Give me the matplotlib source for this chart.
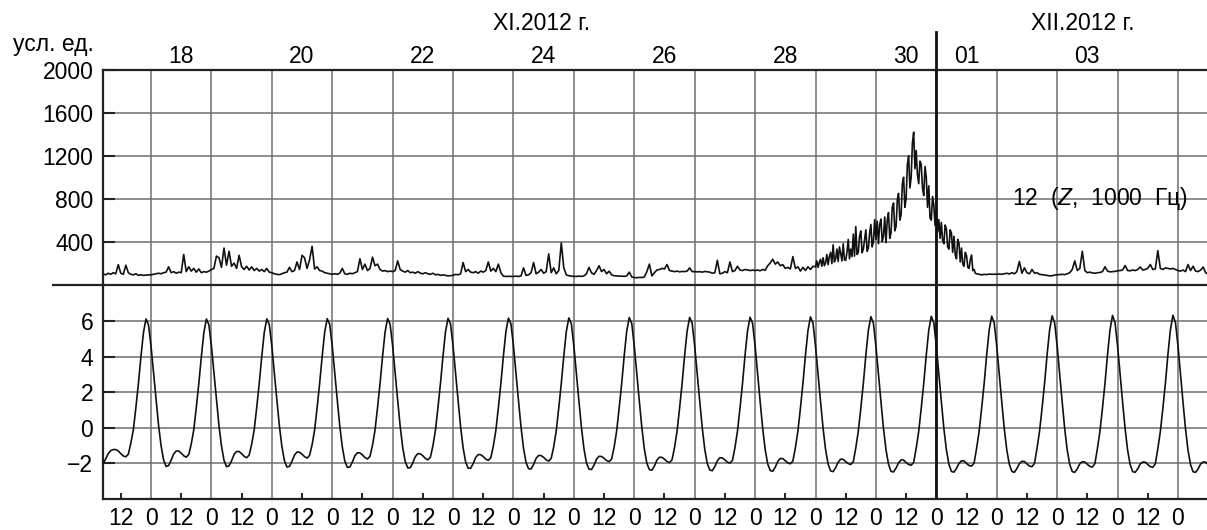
import matplotlib
matplotlib.use('Agg')
import matplotlib.pyplot as plt
from matplotlib.lines import Line2D
import numpy as np

plt.rcParams['font.family'] = ['Liberation Sans', 'DejaVu Sans']
plt.rcParams['font.size'] = 16.5
plt.rcParams['mathtext.fontset'] = 'custom'
plt.rcParams['mathtext.rm'] = 'Liberation Sans'
plt.rcParams['mathtext.it'] = 'Liberation Sans:italic'

# ---------------- data ----------------
# time axis: day-of-month counted from 1 Nov 2012 (Dec 1 = 31)
hour = 1 / 24.0

# channel 12 (Z, 1000 Hz), conventional units
# quiet part before the burst, hourly from 17 Nov 04:00
signal_before_start = 17 + 4 * hour
signal_before = [
    # Nov 17 (04..23)
    95, 100, 90, 105, 95, 110, 100, 185, 105, 95, 180, 110, 95, 90, 100, 85, 90, 85, 88, 90,
    # Nov 18
    90, 95, 100, 105, 100, 110, 115, 165, 110, 120, 105, 115, 110, 280, 120, 165, 125, 150, 115, 145, 110, 120, 115, 125,
    # Nov 19
    140, 150, 265, 250, 160, 340, 180, 310, 170, 200, 150, 272, 165, 140, 170, 135, 165, 130, 150, 125, 140, 120, 150, 115,
    # Nov 20
    110, 100, 95, 92, 100, 110, 115, 160, 120, 130, 210, 140, 272, 250, 150, 230, 356, 145, 165, 130, 125, 110, 105, 100,
    # Nov 21
    95, 100, 95, 105, 150, 100, 95, 105, 100, 110, 120, 240, 140, 190, 130, 150, 255, 175, 190, 140, 125, 130, 120, 125,
    # Nov 22
    120, 130, 220, 140, 125, 115, 130, 110, 115, 105, 120, 105, 100, 110, 100, 95, 105, 90, 95, 85, 90, 85, 80, 82,
    # Nov 23
    85, 95, 90, 100, 205, 120, 140, 115, 110, 120, 105, 125, 115, 130, 210, 125, 150, 120, 190, 110, 78, 75, 76, 75,
    # Nov 24
    75, 78, 75, 80, 155, 85, 90, 110, 205, 100, 115, 140, 105, 120, 285, 110, 155, 100, 130, 388, 155, 90, 82, 78,
    # Nov 25
    76, 75, 78, 76, 80, 100, 160, 110, 95, 130, 175, 120, 140, 100, 124, 90, 82, 80, 78, 78, 76, 80, 115, 70,
    # Nov 26
    65, 63, 66, 65, 70, 120, 190, 80, 110, 135, 140, 150, 145, 186, 130, 125, 120, 125, 118, 122, 120, 125, 155, 120,
    # Nov 27
    120, 118, 120, 115, 122, 118, 115, 105, 110, 225, 100, 105, 120, 110, 210, 120, 130, 170, 135, 130, 140, 135, 130, 135,
    # Nov 28
    130, 135, 128, 140, 132, 175, 200, 235, 190, 210, 175, 185, 150, 160, 145, 260, 150, 165, 125, 160, 130, 165, 140, 170,
]

# the burst, half-hourly from 29 Nov 00:00 to 1 Dec 15:30
burst_start = 29.0
burst_halfhourly = [
    # Nov 29
    165, 220, 160, 205, 235, 170, 250, 175, 200, 280, 185, 260, 300, 195, 370, 210,
    240, 330, 215, 350, 290, 220, 380, 230, 225, 300, 420, 240, 330, 260, 470, 265,
    540, 280, 300, 450, 500, 295, 330, 420, 510, 310, 340, 480, 560, 350, 400, 605,
    # Nov 30
    420, 590, 380, 560, 610, 400, 450, 630, 390, 600, 670, 430, 480, 720, 760, 500,
    540, 790, 850, 600, 650, 940, 1000, 720, 800, 1120, 1200, 900, 1000, 1320, 1420, 1080,
    1250, 1020, 940, 1150, 1120, 900, 830, 1100, 1000, 720, 920, 620, 600, 820, 740, 550,
    # Dec 1 (00:00..15:30)
    680, 490, 605, 430, 580, 410, 380, 555, 520, 350, 330, 510, 480, 300, 450, 280,
    240, 420, 385, 210, 340, 190, 170, 300, 270, 160, 150, 230, 275, 130, 140, 105,
]

# quiet part after the burst, hourly from 1 Dec 16:00
signal_after_start = 31 + 16 * hour
signal_after = [
    # Dec 1 (16..23)
    100, 95, 90, 95, 92, 98, 95, 96,
    # Dec 2
    95, 98, 95, 100, 105, 98, 110, 100, 120, 215, 105, 155, 110, 100, 140, 105, 110, 95, 92, 90, 85, 80, 82, 88,
    # Dec 3
    90, 92, 95, 92, 100, 110, 140, 220, 130, 150, 310, 130, 110, 115, 108, 105, 110, 112, 120, 165, 125, 118, 120, 122,
    # Dec 4
    128, 130, 135, 177, 130, 128, 135, 130, 140, 163, 135, 140, 150, 186, 140, 145, 315, 150, 140, 155, 150, 145, 150, 140,
    # Dec 5 (00..12)
    130, 125, 135, 120, 186, 130, 170, 125, 120, 135, 163, 110, 92,
]

# lower curve, hourly from 17 Nov 04:00
tide_start = 17 + 4 * hour
tide = [
    # Nov 17 (04..23)
    -2.05, -2.0, -1.75, -1.45, -1.28, -1.22, -1.22, -1.3, -1.45, -1.58, -1.63, -1.48, -0.85, -0.1, 1.15, 2.5, 4.0, 5.35, 6.12, 5.8,
    # Nov 18
    4.6, 3.1, 1.6, 0.15, -1.0, -1.8, -2.17, -2.12, -1.82, -1.47, -1.3, -1.3, -1.42, -1.57, -1.65, -1.5, -0.9, -0.1, 1.15, 2.5, 4.0, 5.35, 6.12, 5.8,
    # Nov 19
    4.6, 3.1, 1.6, 0.14, -1.02, -1.82, -2.18, -2.14, -1.85, -1.5, -1.33, -1.33, -1.45, -1.6, -1.68, -1.53, -0.92, -0.11, 1.15, 2.5, 4.0, 5.37, 6.13, 5.81,
    # Nov 20
    4.61, 3.09, 1.58, 0.12, -1.04, -1.84, -2.2, -2.17, -1.88, -1.53, -1.36, -1.37, -1.48, -1.62, -1.7, -1.55, -0.95, -0.12, 1.14, 2.5, 4.01, 5.38, 6.14, 5.82,
    # Nov 21
    4.61, 3.08, 1.57, 0.1, -1.07, -1.87, -2.22, -2.2, -1.92, -1.57, -1.4, -1.41, -1.52, -1.67, -1.75, -1.6, -0.98, -0.13, 1.14, 2.5, 4.02, 5.39, 6.15, 5.83,
    # Nov 22
    4.61, 3.07, 1.56, 0.08, -1.1, -1.9, -2.25, -2.24, -1.97, -1.62, -1.45, -1.46, -1.57, -1.72, -1.8, -1.65, -1.01, -0.14, 1.13, 2.5, 4.03, 5.4, 6.16, 5.84,
    # Nov 23
    4.61, 3.06, 1.55, 0.06, -1.12, -1.92, -2.27, -2.27, -2.01, -1.66, -1.5, -1.51, -1.61, -1.76, -1.83, -1.68, -1.03, -0.15, 1.13, 2.5, 4.04, 5.41, 6.17, 5.85,
    # Nov 24
    4.61, 3.05, 1.53, 0.05, -1.15, -1.95, -2.3, -2.31, -2.06, -1.71, -1.55, -1.56, -1.66, -1.8, -1.87, -1.71, -1.06, -0.16, 1.12, 2.5, 4.05, 5.42, 6.18, 5.86,
    # Nov 25
    4.6, 3.04, 1.52, 0.03, -1.17, -1.97, -2.32, -2.34, -2.1, -1.76, -1.6, -1.61, -1.71, -1.84, -1.9, -1.75, -1.08, -0.17, 1.12, 2.5, 4.06, 5.44, 6.2, 5.87,
    # Nov 26
    4.6, 3.04, 1.51, 0.02, -1.19, -1.99, -2.35, -2.38, -2.15, -1.81, -1.65, -1.66, -1.76, -1.89, -1.95, -1.79, -1.1, -0.18, 1.11, 2.5, 4.07, 5.45, 6.21, 5.88,
    # Nov 27
    4.6, 3.03, 1.5, 0.01, -1.2, -2.01, -2.37, -2.41, -2.18, -1.85, -1.68, -1.69, -1.8, -1.93, -1.98, -1.83, -1.11, -0.18, 1.11, 2.5, 4.08, 5.46, 6.22, 5.88,
    # Nov 28
    4.6, 3.02, 1.49, -0.01, -1.21, -2.02, -2.4, -2.44, -2.21, -1.89, -1.72, -1.73, -1.85, -1.97, -2.02, -1.87, -1.12, -0.19, 1.1, 2.5, 4.08, 5.47, 6.24, 5.89,
    # Nov 29
    4.6, 3.02, 1.48, -0.02, -1.22, -2.03, -2.42, -2.46, -2.24, -1.93, -1.76, -1.77, -1.9, -2.01, -2.06, -1.91, -1.13, -0.19, 1.1, 2.5, 4.09, 5.48, 6.25, 5.89,
    # Nov 30
    4.6, 3.01, 1.47, -0.03, -1.23, -2.04, -2.45, -2.48, -2.26, -1.97, -1.8, -1.81, -1.95, -2.06, -2.1, -1.95, -1.14, -0.2, 1.1, 2.5, 4.09, 5.49, 6.27, 5.9,
    # Dec 1
    4.6, 3.0, 1.46, -0.04, -1.24, -2.05, -2.45, -2.49, -2.28, -2.0, -1.85, -1.86, -2.0, -2.12, -2.15, -1.98, -1.15, -0.2, 1.1, 2.5, 4.1, 5.5, 6.28, 5.9,
    # Dec 2
    4.6, 3.0, 1.45, -0.05, -1.25, -2.05, -2.45, -2.5, -2.29, -2.01, -1.88, -1.89, -2.03, -2.15, -2.18, -2.0, -1.15, -0.2, 1.1, 2.5, 4.1, 5.5, 6.3, 5.9,
    # Dec 3
    4.61, 3.0, 1.45, -0.05, -1.25, -2.05, -2.46, -2.5, -2.3, -2.02, -1.9, -1.92, -2.05, -2.17, -2.2, -2.01, -1.16, -0.2, 1.1, 2.5, 4.1, 5.51, 6.32, 5.91,
    # Dec 4
    4.62, 3.0, 1.45, -0.05, -1.26, -2.06, -2.46, -2.5, -2.31, -2.03, -1.92, -1.93, -2.06, -2.18, -2.22, -2.02, -1.17, -0.2, 1.1, 2.5, 4.11, 5.52, 6.33, 5.92,
    # Dec 5 (00..12)
    4.62, 3.0, 1.44, -0.06, -1.27, -2.07, -2.47, -2.5, -2.31, -2.03, -1.92, -1.93, -2.06,
]

day_label_pos = [18.5, 20.5, 22.5, 24.5, 26.5, 28.5, 30.5, 31.5, 33.5]
day_labels = ['18', '20', '22', '24', '26', '28', '30', '01', '03']
month_labels = ['XI.2012 г.', 'XII.2012 г.']
month_label_pos = [24.46, 33.43]
month_boundary = 31
midnights = list(range(18, 36))
noons = [d + 0.5 for d in range(17, 35)]
top_yticks = [400, 800, 1200, 1600, 2000]
bottom_yticks = [-2, 0, 2, 4, 6]
y_unit_label = 'усл. ед.'
channel_label = '12  ($\\mathit{Z}$,  1000  Гц)'

# ---------------- figure ----------------
W, H = 1207, 530
fig = plt.figure(figsize=(W / 100, H / 100), dpi=100)
fig.patch.set_facecolor('white')

left_px, right_px = 103, 1208
top_px, mid_px, bot_px = 70, 284.5, 499
px_per_day = 60.41
x0 = 18 - (151 - left_px) / px_per_day
x1 = x0 + (right_px - left_px) / px_per_day

ax_top = fig.add_axes([left_px / W, 1 - mid_px / H, (right_px - left_px) / W, (mid_px - top_px) / H])
ax_bot = fig.add_axes([left_px / W, 1 - bot_px / H, (right_px - left_px) / W, (bot_px - mid_px) / H])

t_top = np.concatenate([
    signal_before_start + hour * np.arange(len(signal_before)),
    burst_start + 0.5 * hour * np.arange(len(burst_halfhourly)),
    signal_after_start + hour * np.arange(len(signal_after)),
])
v_top = np.concatenate([signal_before, burst_halfhourly, signal_after])
t_bot = tide_start + hour * np.arange(len(tide))

grid_color = '#6f6f6f'
line_color = '#111111'

for ax in (ax_top, ax_bot):
    ax.set_xlim(x0, x1)
    ax.set_facecolor('white')
    ax.grid(True, which='major', color=grid_color, lw=1.1)
    ax.set_axisbelow(True)
    ax.spines['right'].set_visible(False)
    ax.spines['left'].set_color('#222222')
    ax.spines['left'].set_linewidth(1.6)
    ax.tick_params(axis='y', direction='in', length=8.5, width=1.5, color='#222222', pad=7,
                   labelsize=16.5)
    ax.axvline(month_boundary, color='#111111', lw=2.0, zorder=3)

# top panel
ax_top.plot(t_top, v_top, color=line_color, lw=1.2, zorder=4)
ax_top.set_ylim(0, 2000)
ax_top.set_yticks(top_yticks)
ax_top.set_xticks(midnights, labels=[''] * len(midnights))
ax_top.set_xticks(day_label_pos, labels=day_labels, minor=True)
ax_top.tick_params(axis='x', which='both', length=0, bottom=False, top=False,
                   labelbottom=False, labeltop=True, pad=1.5, labelsize=16.5)
ax_top.spines['bottom'].set_visible(False)
ax_top.spines['top'].set_color('#222222')
ax_top.spines['top'].set_linewidth(1.6)
ax_top.plot([month_boundary, month_boundary], [1.0, (mid_px - 32) / (mid_px - top_px)],
            transform=ax_top.get_xaxis_transform(), color='#111111', lw=2.0, clip_on=False)
for lab, pos in zip(month_labels, month_label_pos):
    ax_top.text(pos, (mid_px - 24) / (mid_px - top_px), lab, transform=ax_top.get_xaxis_transform(),
                ha='center', va='center', fontsize=16.5)
ax_top.text(32.25, 800, channel_label, ha='left', va='center', fontsize=16.5, zorder=5)

# bottom panel
ax_bot.plot(t_bot, tide, color=line_color, lw=1.2, zorder=4)
ax_bot.set_ylim(-4, 8.06)
ax_bot.set_yticks(bottom_yticks)
ax_bot.set_xticks(midnights, labels=['0'] * len(midnights))
ax_bot.set_xticks(noons, labels=['12'] * len(noons), minor=True)
ax_bot.tick_params(axis='x', which='major', direction='in', length=0, pad=6, labelsize=16.5)
ax_bot.tick_params(axis='x', which='minor', direction='in', length=4.5, width=1.4,
                   color='#222222', pad=6, labelsize=16.5)
ax_bot.spines['top'].set_visible(False)
ax_bot.spines['bottom'].set_color('#222222')
ax_bot.spines['bottom'].set_linewidth(1.6)

# separator line between panels (extends left past the axes)
fig.add_artist(Line2D([53 / W, 1.0], [1 - mid_px / H, 1 - mid_px / H], color='#222222', lw=1.6))

fig.text(13 / W, 1 - 45 / H, y_unit_label, ha='left', va='center', fontsize=16.5)

fig.savefig('out.png', dpi=100)
